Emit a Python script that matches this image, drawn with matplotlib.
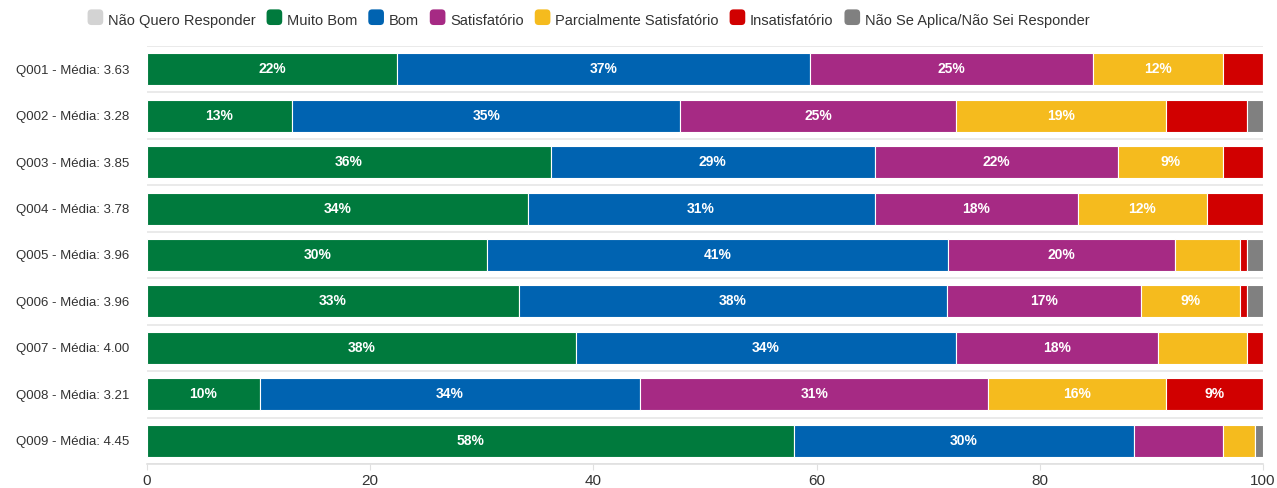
import matplotlib
matplotlib.use("Agg")
import matplotlib.pyplot as plt
from matplotlib.patches import FancyBboxPatch, Patch
from matplotlib.legend_handler import HandlerPatch
import numpy as np

plt.rcParams['font.family'] = ['Liberation Sans', 'DejaVu Sans']

questions = ["Q001 - Média: 3.63", "Q002 - Média: 3.28", "Q003 - Média: 3.85",
             "Q004 - Média: 3.78", "Q005 - Média: 3.96", "Q006 - Média: 3.96",
             "Q007 - Média: 4.00", "Q008 - Média: 3.21", "Q009 - Média: 4.45"]
series_names = ["Não Quero Responder", "Muito Bom", "Bom", "Satisfatório",
                "Parcialmente Satisfatório", "Insatisfatório", "Não Se Aplica/Não Sei Responder"]
colors = ["#d3d3d3", "#007a3d", "#0063b1", "#a62a84", "#f5bb1e", "#d10000", "#808080"]

nao_quero = [0, 0, 0, 0, 0, 0, 0, 0, 0]
muito_bom = [22.4, 13.0, 36.2, 34.1, 30.5, 33.3, 38.4, 10.1, 58.0]
bom = [37.0, 34.8, 29.0, 31.1, 41.3, 38.4, 34.1, 34.1, 30.4]
satisfatorio = [25.4, 24.7, 21.8, 18.2, 20.3, 17.4, 18.1, 31.2, 8.0]
parcial = [11.6, 18.8, 9.4, 11.6, 5.8, 8.8, 8.0, 15.9, 2.9]
insatisfatorio = [3.6, 7.3, 3.6, 5.0, 0.7, 0.7, 1.4, 8.7, 0.0]
nao_aplica = [0.0, 1.4, 0.0, 0.0, 1.4, 1.4, 0.0, 0.0, 0.7]

series = [nao_quero, muito_bom, bom, satisfatorio, parcial, insatisfatorio, nao_aplica]

fig = plt.figure(figsize=(12.77, 4.88), dpi=100)
ax = fig.add_axes([147/1277, (488-464)/488, (1263-147)/1277, (464-46)/488])

y = np.arange(len(questions))
left = np.zeros(len(questions))
for name, vals, col in zip(series_names, series, colors):
    vals = np.array(vals, dtype=float)
    ax.barh(y, vals, left=left, color=col, height=0.69,
            edgecolor="white", linewidth=0.8, zorder=3)
    for yi, v, l in zip(y, vals, left):
        if v >= 8.5:
            ax.text(l + v / 2, yi, f"{round(v):.0f}%", ha="center", va="center",
                    color="white", fontsize=10, fontweight="bold", zorder=4)
    left += vals

ax.set_xlim(0, 100)
ax.set_ylim(len(questions) - 0.5, -0.5)
ax.set_yticks(y)
ax.set_yticklabels(questions, fontsize=9.5, color="#333333")
ax.set_xticks([0, 20, 40, 60, 80, 100])
ax.tick_params(axis="y", length=0, pad=13)
ax.tick_params(axis="x", length=4, color="#e0e0e0", labelsize=11, labelcolor="#333333")
for b in np.arange(-0.5, len(questions), 1.0):
    ax.axhline(b, color="#e6e6e6", linewidth=1.2, zorder=1)
for s in ["top", "right", "left"]:
    ax.spines[s].set_visible(False)
ax.spines["bottom"].set_color("#e0e0e0")
ax.spines["bottom"].set_linewidth(1.2)


class RoundHandler(HandlerPatch):
    def create_artists(self, legend, orig_handle, xdescent, ydescent, width, height, fontsize, trans):
        s = height * 1.2
        p = FancyBboxPatch((xdescent + (width - s) / 2, ydescent + (height - s) / 2), s, s,
                           boxstyle="round,pad=0,rounding_size=%f" % (s * 0.25),
                           facecolor=orig_handle.get_facecolor(), edgecolor="none",
                           transform=trans)
        return [p]


handles = [Patch(facecolor=c, label=n) for n, c in zip(series_names, colors)]
hm = {h: RoundHandler() for h in handles}
fig.legend(handles, series_names, loc="center left", bbox_to_anchor=(75/1277, 1 - 21/488),
           ncol=7, frameon=False, fontsize=10.5, handlelength=1.0, handleheight=1.0,
           handletextpad=0.35, columnspacing=0.8, handler_map=hm, labelcolor="#333333")

fig.savefig("out.png", dpi=100)
